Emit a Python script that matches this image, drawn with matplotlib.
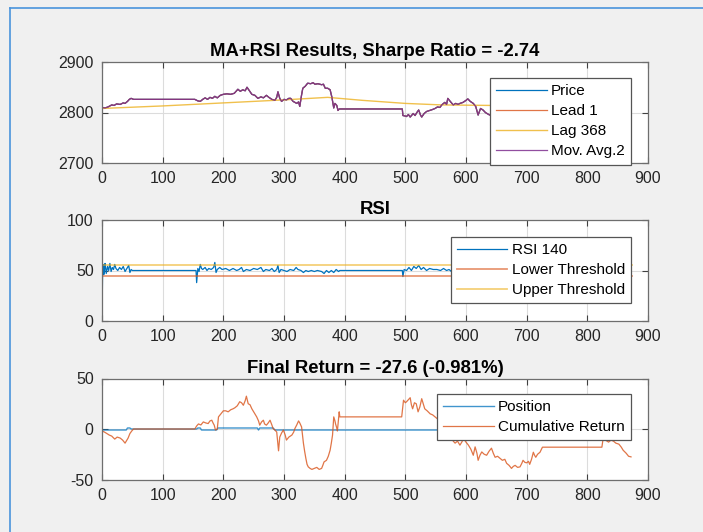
import matplotlib
matplotlib.use("Agg")
import matplotlib.pyplot as plt
from matplotlib.lines import Line2D

plt.rcParams['font.family'] = ['Liberation Sans', 'DejaVu Sans']
plt.rcParams['axes.unicode_minus'] = False

# ---- data ----
price_x = [0, 5, 10, 16, 20, 24, 30, 35, 38, 42, 45, 48, 52, 60, 153, 158, 162, 166, 170, 174,
           178, 182, 186, 190, 195, 200, 206, 212, 218, 224, 228, 232, 236, 239, 243, 247, 252,
           257, 262, 266, 271, 275, 280, 285, 288, 290, 293, 296, 300, 304, 308, 311, 315, 318,
           321, 324, 326, 329, 331, 335, 339, 344, 348, 351, 356, 362, 365, 368, 372, 376, 379,
           382, 384, 387, 389, 391, 495, 496, 500, 502, 505, 508, 513, 516, 519, 522, 525, 527,
           531, 535, 540, 545, 549, 553, 557, 560, 565, 568, 570, 574, 579, 583, 587, 590, 595,
           600, 603, 607, 612, 616, 620, 624, 628, 632, 636, 639, 645, 660, 680, 700, 720, 760,
           800, 830, 850, 871]
price = [2810, 2809, 2811, 2815, 2814, 2817, 2816, 2819, 2818, 2822, 2826, 2828, 2826, 2826, 2826,
         2823, 2822, 2826, 2829, 2826, 2830, 2828, 2832, 2829, 2834, 2836, 2837, 2836, 2838, 2846,
         2842, 2845, 2843, 2850, 2843, 2836, 2834, 2828, 2831, 2829, 2834, 2830, 2826, 2824, 2830,
         2841, 2828, 2822, 2826, 2825, 2828, 2828, 2822, 2820, 2818, 2821, 2812, 2835, 2848, 2852,
         2858, 2857, 2859, 2856, 2857, 2855, 2856, 2848, 2848, 2845, 2830, 2809, 2818, 2814, 2804,
         2807, 2807, 2794, 2793, 2792, 2796, 2791, 2798, 2794, 2800, 2805, 2795, 2791, 2798, 2802,
         2804, 2806, 2808, 2811, 2810, 2815, 2820, 2816, 2828, 2822, 2815, 2818, 2816, 2818, 2820,
         2824, 2827, 2822, 2818, 2812, 2795, 2808, 2805, 2800, 2797, 2795, 2798, 2805, 2800, 2810,
         2805, 2805, 2812, 2808, 2815, 2806]

lag_x = [0, 100, 200, 300, 372, 430, 500, 560, 640, 720, 800, 871]
lag = [2808, 2813, 2819, 2825, 2830, 2824, 2818, 2815, 2814, 2812, 2811, 2810]

rsi_x = [0, 1, 2, 3, 4, 5, 7, 9, 11, 13, 15, 17, 19, 21, 23, 26, 29, 32, 35, 38, 41, 44, 46, 48,
         50, 155, 156, 158, 160, 162, 164, 166, 170, 173, 176, 180, 184, 186, 188, 190, 194, 198,
         204, 210, 216, 222, 226, 230, 233, 238, 244, 250, 256, 262, 266, 270, 276, 280, 284, 288,
         290, 292, 295, 300, 305, 310, 316, 320, 323, 328, 332, 336, 340, 345, 350, 355, 362, 366,
         370, 374, 378, 382, 386, 390, 392, 495, 496, 498, 502, 506, 510, 514, 518, 522, 526, 530,
         535, 540, 546, 552, 558, 563, 568, 572, 576, 580, 600, 620, 640, 700, 760, 800, 840, 871]
rsi = [0, 50, 56, 46, 52, 57, 47, 54, 50, 57, 49, 53, 51, 56, 52, 50, 53, 51, 54, 49, 52, 55, 48, 51,
       50, 50, 38, 52, 49, 56, 52, 51, 53, 50, 52, 51, 53, 58, 48, 51, 53, 51, 52, 50, 52, 50, 51, 53,
       49, 51, 50, 52, 51, 53, 49, 51, 50, 52, 49, 51, 55, 48, 51, 50, 49, 51, 50, 53, 51, 50, 48, 50,
       49, 50, 49, 50, 49, 47, 50, 48, 50, 48, 51, 49, 50, 50, 44, 51, 50, 53, 50, 54, 52, 55, 51, 53,
       50, 52, 51, 51, 50, 52, 50, 51, 49, 50, 52, 48, 50, 51, 50, 52, 49, 50]
thr_x = [1, 873]
lower_thr = [45, 45]
upper_thr = [55, 55]

pos_x = [0, 40, 42, 46, 48, 156, 158, 162, 164, 189, 191, 256, 258, 260, 282, 285, 871]
position = [-1, -1, 1, 1, 0, 0, 1, 1, -1, -1, 1, 1, -1, 1, 1, -1, -1]

ret_x = [0, 4, 8, 12, 16, 21, 25, 30, 34, 38, 40, 43, 46, 49, 52, 153, 156, 159, 163, 167, 171, 175,
         178, 181, 183, 185, 187, 190, 192, 196, 200, 204, 208, 212, 216, 219, 223, 227, 230, 233,
         236, 238, 241, 244, 247, 251, 255, 258, 260, 263, 266, 268, 271, 274, 277, 280, 282, 285,
         288, 291, 293, 296, 299, 302, 304, 308, 313, 316, 318, 321, 324, 326, 329, 332, 334, 336,
         338, 340, 343, 346, 350, 354, 358, 362, 364, 366, 370, 373, 376, 378, 380, 382, 384, 385,
         387, 388, 390, 391, 392, 494, 497, 500, 502, 505, 508, 510, 512, 515, 518, 521, 524, 527,
         530, 532, 536, 541, 545, 549, 553, 557, 562, 567, 572, 576, 579, 582, 586, 590, 593, 596,
         600, 604, 608, 612, 615, 618, 620, 623, 626, 630, 634, 638, 642, 645, 648, 652, 656, 660,
         664, 667, 671, 675, 678, 681, 685, 689, 692, 694, 697, 700, 703, 705, 708, 711, 713, 715,
         718, 722, 726, 824, 826, 830, 835, 839, 843, 847, 852, 856, 859, 864, 868, 872]
cum_ret = [-2, -3, -4.5, -6, -7, -10, -8, -9, -11, -14, -12, -9, -4.5, -2, 0, 0, 3, 5, 4, 7, 6, 5.4,
           8, 8.7, 6, 3.8, -1, 0, 12, 15, 18, 18, 17, 19, 20, 21, 23, 27, 26, 23.5, 28, 32.5, 25, 24,
           20, 16, 12, 8, 3.8, 7, 8.7, 5, 3.8, 6, 8.7, 4, 0.5, -1, -3, -21.6, -8, -4, -1, -6, -11, -8,
           -6, -3, 0.5, 4, 8, 6, 2, -14, -22, -29, -35, -37.5, -39, -40, -39, -38, -40, -39, -36,
           -32.6, -31, -27, -21, -14, -6, 12, 8, 5, 1, -2, 10, 17, 12, 12, 28.5, 26, 27, 29, 31, 24,
           20, 26, 25, 17, 22, 30, 24, 20, 18, 15, 14, 12, 10, 8, 4, 0, -4, -9, -12, -14, -12, -16,
           -13, -9.5, -13, -16, -20, -26, -17.7, -24, -31, -26, -22.7, -25, -26, -22, -19, -24, -28,
           -27, -29, -31, -30, -34, -36, -39, -37, -36, -38, -37.5, -34, -31, -33, -33.5, -32, -35,
           -30, -23, -26, -28, -25, -23, -18, -18, -9.5, -11, -13, -11, -12, -14, -15, -18, -21, -24,
           -27, -27.6]

x_ticks = [0, 100, 200, 300, 400, 500, 600, 700, 800, 900]

BLUE, ORANGE, YELLOW, PURPLE = '#0072BD', '#D95319', '#EDB120', '#7E2F8E'
FS = 11.5

fig = plt.figure(figsize=(7.03, 5.32), dpi=100, facecolor='#f0f0f0')
# window border seen in the screenshot
fig.add_artist(Line2D([10 / 703, 10 / 703], [0, 1 - 8 / 532], transform=fig.transFigure,
                      color='#4a94dc', lw=1.2))
fig.add_artist(Line2D([10 / 703, 1], [1 - 8 / 532, 1 - 8 / 532], transform=fig.transFigure,
                      color='#4a94dc', lw=1.2))

left, width, height = 102 / 703, 546 / 703, 101 / 532
ax1 = fig.add_axes([left, 1 - 163 / 532, width, height])
ax2 = fig.add_axes([left, 1 - 321 / 532, width, height])
ax3 = fig.add_axes([left, 1 - 479.5 / 532, width, height])


def style(ax, yticks):
    ax.set_xlim(0, 900)
    ax.set_ylim(yticks[0], yticks[-1])
    ax.set_xticks(x_ticks)
    ax.set_yticks(yticks)
    ax.grid(True, color='#dcdcdc', lw=0.8)
    ax.set_axisbelow(True)
    ax.tick_params(direction='in', top=True, right=True, length=4, width=0.8,
                   color='#404040', labelsize=FS, labelcolor='#262626', pad=6)
    for s in ax.spines.values():
        s.set_color('#6e6e6e')
        s.set_linewidth(0.9)


def legend(ax, top):
    lg = ax.legend(loc='upper right', bbox_to_anchor=(0.969, top), borderaxespad=0,
                   fancybox=False, framealpha=1, edgecolor='#555555', fontsize=11,
                   handlelength=3.3, handletextpad=0.3, labelspacing=0.4,
                   borderpad=0.4)
    lg.get_frame().set_linewidth(0.9)


ax1.plot(price_x, price, color=BLUE, lw=0.9, label='Price')
ax1.plot(price_x, price, color=ORANGE, lw=0.9, alpha=0.8, label='Lead 1')
ax1.plot(lag_x, lag, color=YELLOW, lw=1.0, alpha=0.8, label='Lag 368')
ax1.plot(price_x, price, color=PURPLE, lw=0.9, alpha=0.85, label='Mov. Avg.2')
style(ax1, [2700, 2800, 2900])
ax1.set_title('MA+RSI Results, Sharpe Ratio = -2.74', fontsize=13.3, fontweight='bold', pad=4)
legend(ax1, 0.842)

ax2.plot(rsi_x, rsi, color=BLUE, lw=0.9, label='RSI 140')
ax2.plot(thr_x, lower_thr, color=ORANGE, lw=1.3, alpha=0.6, label='Lower Threshold')
ax2.plot(thr_x, upper_thr, color=YELLOW, lw=1.3, alpha=0.6, label='Upper Threshold')
style(ax2, [0, 50, 100])
ax2.set_title('RSI', fontsize=13.3, fontweight='bold', pad=4)
legend(ax2, 0.832)

ax3.plot(pos_x, position, color=BLUE, lw=1.0, alpha=0.75, label='Position')
ax3.plot(ret_x, cum_ret, color=ORANGE, lw=0.9, alpha=0.8, label='Cumulative Return')
style(ax3, [-50, 0, 50])
ax3.set_title('Final Return = -27.6 (-0.981%)', fontsize=13.3, fontweight='bold', pad=4)
legend(ax3, 0.845)

fig.savefig('out.png', dpi=100, facecolor=fig.get_facecolor())
